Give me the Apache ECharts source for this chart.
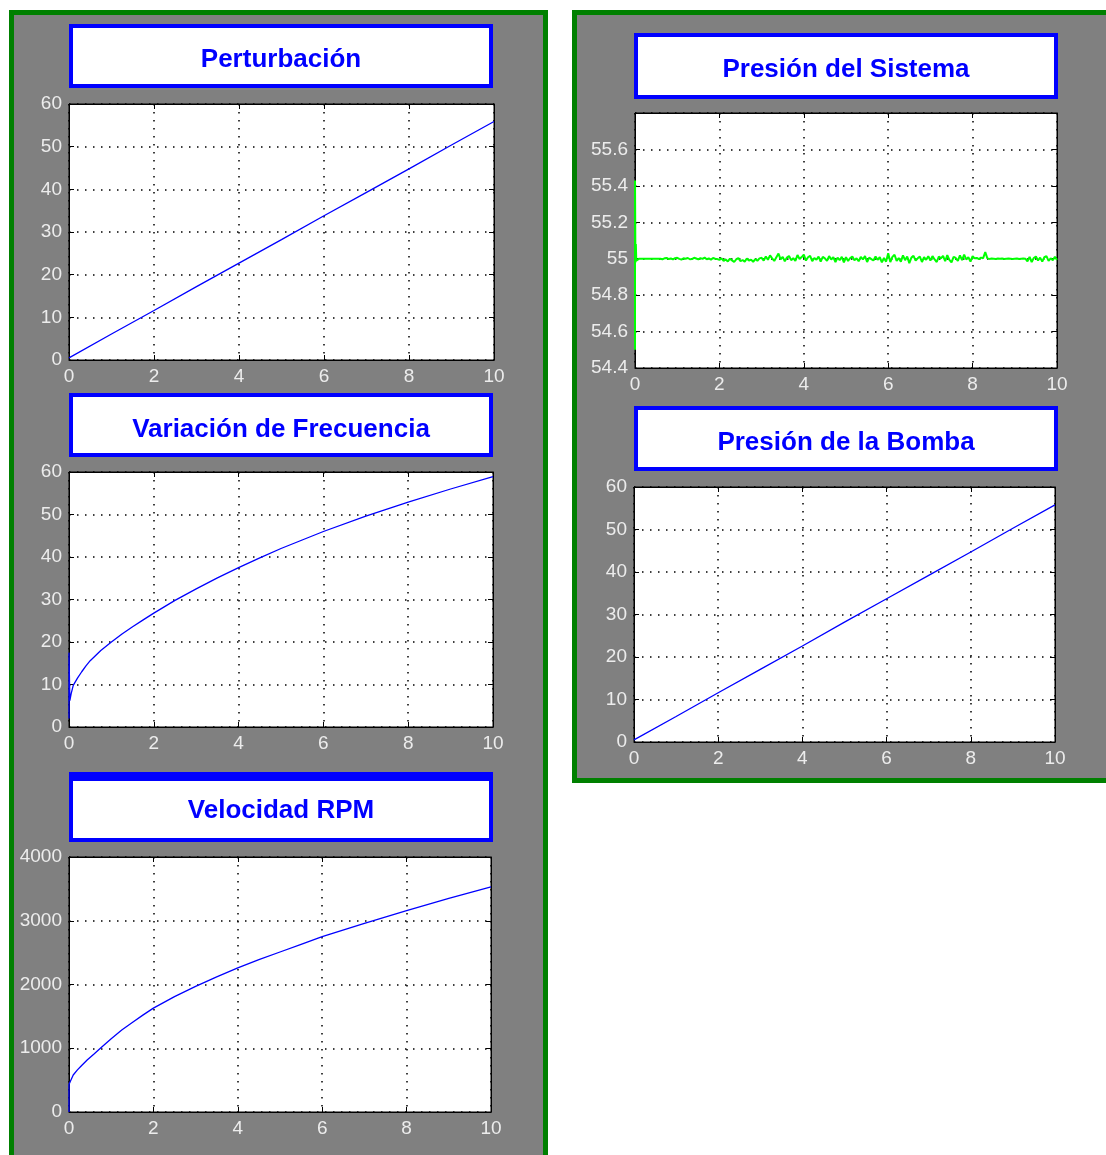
<!DOCTYPE html>
<html><head><meta charset="utf-8">
<script src="https://cdn.jsdelivr.net/npm/echarts@6/dist/echarts.min.js"></script>
<style>html,body{margin:0;padding:0;background:#fff}#c{width:1106px;height:1155px}</style>
</head><body><div id="c"></div>
<script>
// ---- data ----
const plotTitles = ['Perturbación', 'Variación de Frecuencia', 'Velocidad RPM', 'Presión del Sistema', 'Presión de la Bomba'];

const pertT = [0, 1, 2, 3, 4, 5, 6, 7, 8, 9, 10];
const pertV = [0.5, 6.1, 11.6, 17.2, 22.7, 28.2, 33.8, 39.3, 44.8, 50.4, 55.9];

const frecT = [0, 0, 0.02, 0.05, 0.1, 0.2, 0.3, 0.4, 0.5, 0.75, 1, 1.25, 1.5, 1.75, 2, 2.5, 3, 3.5, 4, 4.5, 5, 5.5, 6, 7, 8, 9, 10];
const frecV = [2, 17.5, 6.2, 7.8, 9.8, 11.5, 13.0, 14.4, 15.6, 18.0, 20.0, 21.9, 23.6, 25.2, 26.8, 29.8, 32.5, 35.1, 37.5, 39.8, 42.0, 44.0, 46.0, 49.6, 52.9, 56.0, 58.9];

const rpmT = [0, 0, 0.03, 0.1, 0.2, 0.3, 0.43, 0.6, 0.75, 1, 1.25, 1.5, 1.75, 2, 2.5, 3, 3.5, 4, 4.5, 5, 5.5, 6, 7, 8, 9, 10];
const rpmV = [0, 430, 480, 580, 660, 730, 815, 915, 1005, 1150, 1285, 1405, 1520, 1630, 1810, 1970, 2120, 2260, 2390, 2510, 2630, 2750, 2960, 3160, 3350, 3530];

const sysT = [0, 0, 0.01, 0.02, 0.03, 0.04, 0.1, 0.2, 0.3, 0.4, 0.5,
  0.60, 0.65, 0.70, 0.75, 0.80, 0.85, 0.90, 0.95, 1.00, 1.05, 1.10, 1.15, 1.20, 1.25, 1.30, 1.35, 1.40, 1.45, 1.50, 1.55, 1.60, 1.65, 1.70, 1.75, 1.80, 1.85, 1.90, 1.95,
  2.00, 2.05, 2.10, 2.15, 2.20, 2.25, 2.30, 2.35, 2.40, 2.45, 2.50, 2.55, 2.60, 2.65, 2.70, 2.75, 2.80, 2.85, 2.90, 2.95,
  3.00, 3.05, 3.10, 3.15, 3.20, 3.25, 3.30, 3.35, 3.40, 3.45, 3.50, 3.55, 3.60, 3.65, 3.70, 3.75, 3.80, 3.85, 3.90, 3.95,
  4.00, 4.05, 4.10, 4.15, 4.20, 4.25, 4.30, 4.35, 4.40, 4.45, 4.50, 4.55, 4.60, 4.65, 4.70, 4.75, 4.80, 4.85, 4.90, 4.95,
  5.00, 5.05, 5.10, 5.15, 5.20, 5.25, 5.30, 5.35, 5.40, 5.45, 5.50, 5.55, 5.60, 5.65, 5.70, 5.75, 5.80, 5.85, 5.90, 5.95,
  6.00, 6.05, 6.10, 6.15, 6.20, 6.25, 6.30, 6.35, 6.40, 6.45, 6.50, 6.55, 6.60, 6.65, 6.70, 6.75, 6.80, 6.85, 6.90, 6.95,
  7.00, 7.05, 7.10, 7.15, 7.20, 7.25, 7.30, 7.35, 7.40, 7.45, 7.50, 7.55, 7.60, 7.65, 7.70, 7.75, 7.80, 7.85, 7.90, 7.95,
  8.00, 8.05, 8.10, 8.15, 8.20, 8.25, 8.30, 8.35, 8.40, 8.45, 8.50, 8.55, 8.60, 8.65, 8.70, 8.75, 8.80, 8.85, 8.90, 8.95,
  9.00, 9.05, 9.10, 9.15, 9.20, 9.25, 9.30, 9.35, 9.40, 9.45, 9.50, 9.55, 9.60, 9.65, 9.70, 9.75, 9.80, 9.85, 9.90, 9.95,
  10.00];
const sysP = [54.5, 55.43, 54.98, 55.08, 54.99, 55.0, 55.0, 55.0, 55.0, 55.0, 55.0,
  55.000, 54.997, 55.002, 55.004, 54.998, 55.001, 54.996, 55.003, 55.005, 54.999, 54.995, 55.002, 55.000, 55.004, 54.997, 54.998, 55.005, 55.001, 54.996, 55.003, 54.999, 55.006, 54.997, 55.002, 54.995, 55.004, 55.000, 54.998,
  54.994, 55.002, 54.988, 54.996, 54.985, 55.000, 54.991, 54.982, 54.997, 55.003, 54.986, 54.993, 54.984, 55.001, 54.990, 54.995, 54.983, 54.998, 54.989, 55.002,
  55.005, 54.990, 55.012, 54.994, 55.018, 55.002, 54.988, 55.008, 55.028, 54.996, 55.010, 54.986, 55.006, 55.015, 54.992, 55.003, 54.988, 55.020, 54.998, 55.009,
  55.022, 54.990, 55.008, 55.016, 54.986, 55.004, 54.994, 55.012, 54.984, 55.010, 55.002, 54.988, 55.014, 54.996, 55.008, 54.982, 55.006, 54.992, 55.010, 54.980,
  55.008, 54.988, 55.004, 55.012, 54.992, 55.002, 54.986, 55.010, 54.996, 55.014, 54.982, 55.006, 54.998, 54.990, 55.012, 54.994, 55.008, 54.980, 55.004, 54.984,
  55.030, 54.982, 55.010, 55.022, 54.988, 55.004, 54.984, 55.018, 54.992, 55.012, 54.976, 55.006, 55.016, 54.990, 55.002, 55.012, 54.982, 55.008, 54.994, 55.014,
  54.990, 55.014, 54.996, 54.982, 55.012, 55.002, 55.016, 54.986, 55.020, 54.994, 54.980, 55.010, 55.004, 54.988, 55.018, 54.992, 55.022, 54.996, 55.008, 54.984,
  55.014, 55.002, 55.004, 54.998, 55.006, 55.003, 55.036, 55.002, 54.999, 55.001, 55.000, 54.999, 55.001, 55.000, 55.001, 54.999, 55.000, 55.001, 55.000, 54.999,
  55.000, 55.001, 54.999, 55.000, 55.001, 55.000, 54.986, 55.010, 54.982, 55.004, 55.012, 54.990, 55.006, 54.984, 55.008, 55.014, 54.988, 55.002, 54.992, 55.010,
  54.994];

const bombaT = [0, 1, 2, 3, 4, 5, 6, 7, 8, 9, 10];
const bombaV = [0.5, 6.0, 11.6, 17.1, 22.6, 28.2, 33.7, 39.2, 44.7, 50.3, 55.8];

const yRanges = [[0, 60, 10], [0, 60, 10], [0, 4000, 1000], [54.4, 55.8, 0.2], [0, 60, 10]];
const xRange = [0, 10, 2];

// ---- layout ----
const grids = [
  {left: 69, top: 104, width: 425, height: 256},
  {left: 69, top: 472, width: 424, height: 255},
  {left: 69, top: 857, width: 422, height: 255},
  {left: 635, top: 113, width: 422, height: 255},
  {left: 634, top: 487, width: 421, height: 255}
];
const boxes = [
  [69, 24, 424, 64],
  [69, 393, 424, 64],
  [69, 772, 424, 70],
  [634, 33, 424, 66],
  [634, 406, 424, 65]
];
const titleShift = [4, 5, 4, 4, 4];

const fmt = v => String(Math.round(v * 10) / 10);
const labelStyle = {color: '#ececec', fontSize: 19, fontFamily: "'Liberation Sans Narrow', 'Liberation Sans', sans-serif", margin: 7, formatter: fmt};
const gridLine = {show: true, lineStyle: {color: '#000', width: 1.5, type: [1.5, 6.5]}};
const tick = {show: true, inside: true, length: 5, lineStyle: {color: '#000'}};
const axLine = {show: true, onZero: false, lineStyle: {color: '#000', width: 1}};

const xAxes = [], yAxes = [], series = [], titles = [], graphics = [];
const seriesData = [[pertT, pertV], [frecT, frecV], [rpmT, rpmV], [sysT, sysP], [bombaT, bombaV]];
const seriesColor = ['#0000ff', '#0000ff', '#0000ff', '#00ff00', '#0000ff'];

// panels
graphics.push({type: 'rect', z: -10, shape: {x: 11.5, y: 12.5, width: 534, height: 1200},
  style: {fill: '#808080', stroke: '#008000', lineWidth: 5}});
graphics.push({type: 'rect', z: -10, shape: {x: 574.5, y: 12.5, width: 600, height: 768},
  style: {fill: '#808080', stroke: '#008000', lineWidth: 5}});

grids.forEach((g, i) => {
  const [ymin, ymax, yint] = yRanges[i];
  xAxes.push({type: 'value', gridIndex: i, position: 'bottom', min: xRange[0], max: xRange[1], interval: xRange[2],
    axisLine: axLine, axisTick: tick, axisLabel: labelStyle, splitLine: gridLine});
  xAxes.push({type: 'value', gridIndex: i, position: 'top', min: xRange[0], max: xRange[1], interval: xRange[2],
    axisLine: axLine, axisTick: tick, axisLabel: {show: false}, splitLine: {show: false}});
  yAxes.push({type: 'value', gridIndex: i, position: 'left', min: ymin, max: ymax, interval: yint,
    axisLine: axLine, axisTick: tick, axisLabel: Object.assign({showMaxLabel: i !== 3}, labelStyle), splitLine: gridLine});
  yAxes.push({type: 'value', gridIndex: i, position: 'right', min: ymin, max: ymax, interval: yint,
    axisLine: axLine, axisTick: tick, axisLabel: {show: false}, splitLine: {show: false}});
  const [tArr, vArr] = seriesData[i];
  series.push({type: 'line', xAxisIndex: 2 * i, yAxisIndex: 2 * i, showSymbol: false, animation: false,
    data: tArr.map((t, k) => [t, vArr[k]]),
    lineStyle: {color: seriesColor[i], width: i === 3 ? 2 : 1.3}, itemStyle: {color: seriesColor[i]}});
  const b = boxes[i];
  graphics.push({type: 'rect', z: -5, shape: {x: b[0] + 2, y: b[1] + 2, width: b[2] - 4, height: b[3] - 4},
    style: {fill: '#ffffff', stroke: '#0000ff', lineWidth: 4}});
  titles.push({text: plotTitles[i], left: b[0] + b[2] / 2, top: b[1] + b[3] / 2 + titleShift[i],
    textAlign: 'center', textVerticalAlign: 'middle', padding: 0,
    textStyle: {color: '#0000ff', fontSize: 26, fontWeight: 'bold', fontFamily: "'Liberation Sans', Arial, sans-serif"}});
});
// thicker top edge on the third title box
graphics.push({type: 'rect', z: -4, shape: {x: 69, y: 772, width: 424, height: 9}, style: {fill: '#0000ff'}});

const chart = echarts.init(document.getElementById('c'), null, {renderer: 'canvas'});
chart.setOption({
  backgroundColor: '#ffffff',
  animation: false,
  title: titles,
  grid: grids.map(g => Object.assign({show: true, backgroundColor: '#ffffff', borderColor: '#000', borderWidth: 1, containLabel: false}, g)),
  xAxis: xAxes,
  yAxis: yAxes,
  series: series,
  graphic: graphics
});
</script></body></html>
